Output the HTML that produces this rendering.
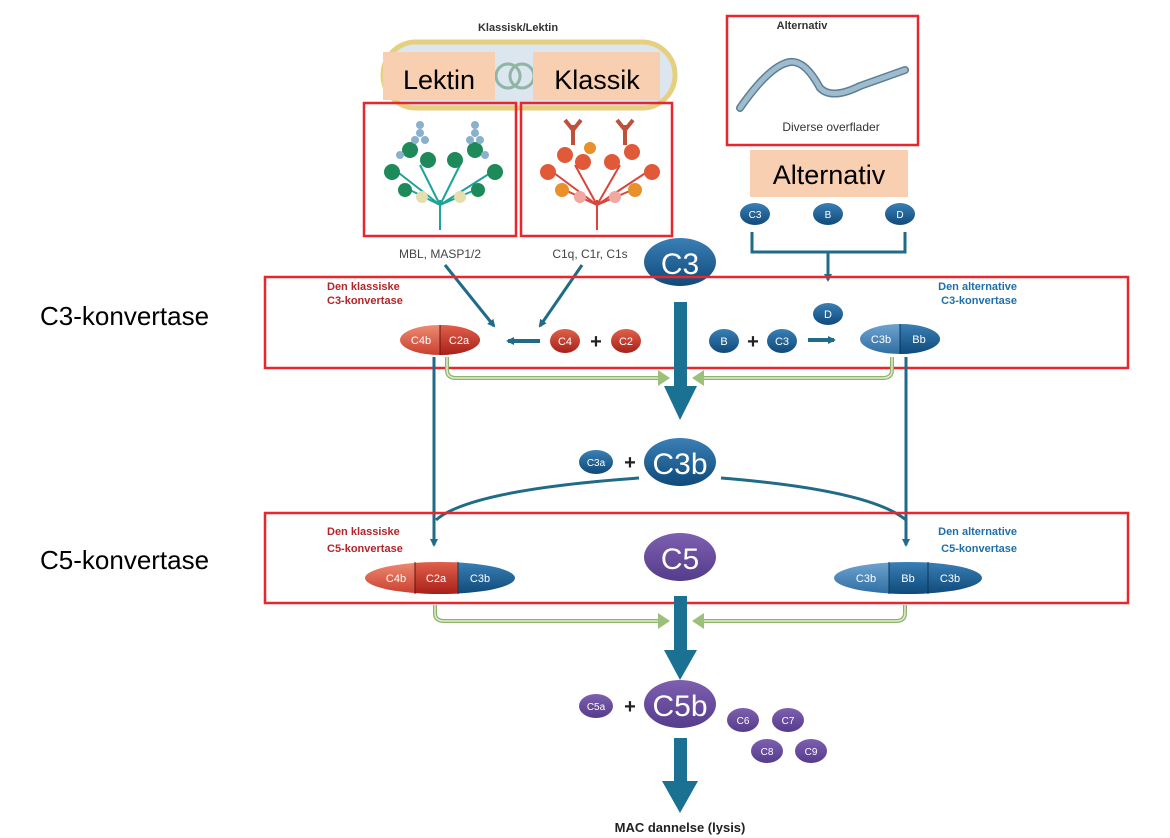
<!DOCTYPE html>
<html><head><meta charset="utf-8"><style>
html,body{margin:0;padding:0;background:#fff;}
svg{display:block;font-family:"Liberation Sans",sans-serif;}
</style></head><body>
<svg width="1170" height="838" viewBox="0 0 1170 838" xmlns="http://www.w3.org/2000/svg">
<defs>
<linearGradient id="blu" x1="0" y1="0" x2="0" y2="1"><stop offset="0" stop-color="#3a7fb5"/><stop offset="1" stop-color="#0f4a7a"/></linearGradient>
<linearGradient id="red" x1="0" y1="0" x2="0" y2="1"><stop offset="0" stop-color="#e0604a"/><stop offset="1" stop-color="#a8201a"/></linearGradient>
<linearGradient id="pur" x1="0" y1="0" x2="0" y2="1"><stop offset="0" stop-color="#7e5fb0"/><stop offset="1" stop-color="#553c8c"/></linearGradient>
<linearGradient id="lb" x1="0" y1="0" x2="0" y2="1"><stop offset="0" stop-color="#6ea3cf"/><stop offset="1" stop-color="#2f6ea3"/></linearGradient>
<linearGradient id="lr" x1="0" y1="0" x2="0" y2="1"><stop offset="0" stop-color="#ee8a70"/><stop offset="1" stop-color="#c84030"/></linearGradient>
<marker id="ta" markerWidth="8" markerHeight="8" refX="6" refY="4" orient="auto" markerUnits="userSpaceOnUse"><path d="M0,0 L8,4 L0,8 Z" fill="#1f6b88"/></marker>
</defs>

<!-- top labels -->
<text x="518" y="31" font-size="11" font-weight="bold" fill="#333" text-anchor="middle">Klassisk/Lektin</text>
<rect x="383" y="42" width="292" height="66" rx="33" fill="#dbe6ee" stroke="#e6cf7e" stroke-width="5"/>
<g fill="none" stroke="#8fb5a5" stroke-width="3"><circle cx="508" cy="76" r="12"/><circle cx="522" cy="76" r="12"/></g>
<rect x="383" y="52" width="112" height="48" fill="#f8cfb0"/>
<rect x="533" y="52" width="127" height="48" fill="#f8cfb0"/>
<text x="439" y="89" font-size="27" text-anchor="middle" fill="#000">Lektin</text>
<text x="597" y="89" font-size="27" text-anchor="middle" fill="#000">Klassik</text>

<!-- lectin tree -->
<g stroke="#1da39a" stroke-width="2" fill="none">
<path d="M440 230 V200 M440 205 L395 170 M440 205 L420 165 M440 205 L460 165 M440 205 L495 170 M440 205 L410 190 M440 205 L475 190"/>
</g>
<g fill="#1e8a5a"><circle cx="392" cy="172" r="8"/><circle cx="410" cy="150" r="8"/><circle cx="428" cy="160" r="8"/><circle cx="455" cy="160" r="8"/><circle cx="475" cy="150" r="8"/><circle cx="495" cy="172" r="8"/><circle cx="405" cy="190" r="7"/><circle cx="478" cy="190" r="7"/></g>
<g fill="#e5dfb0"><circle cx="422" cy="197" r="6"/><circle cx="460" cy="197" r="6"/></g>
<g fill="#8ab0cc"><circle cx="420" cy="125" r="4"/><circle cx="420" cy="133" r="4"/><circle cx="415" cy="140" r="4"/><circle cx="425" cy="140" r="4"/><circle cx="475" cy="125" r="4"/><circle cx="475" cy="133" r="4"/><circle cx="470" cy="140" r="4"/><circle cx="480" cy="140" r="4"/><circle cx="400" cy="155" r="4"/><circle cx="485" cy="155" r="4"/></g>
<!-- classical tree -->
<g stroke="#d9453a" stroke-width="2" fill="none">
<path d="M597 230 V200 M597 205 L550 170 M597 205 L575 165 M597 205 L620 165 M597 205 L650 170 M597 205 L565 190 M597 205 L632 190"/>
<path d="M573 145 V125 M573 130 L565 120 M573 130 L581 120 M625 145 V125 M625 130 L617 120 M625 130 L633 120" stroke="#c0503a" stroke-width="4"/>
</g>
<g fill="#e05a3a"><circle cx="548" cy="172" r="8"/><circle cx="565" cy="155" r="8"/><circle cx="583" cy="162" r="8"/><circle cx="612" cy="162" r="8"/><circle cx="632" cy="152" r="8"/><circle cx="652" cy="172" r="8"/></g>
<g fill="#e8902a"><circle cx="562" cy="190" r="7"/><circle cx="635" cy="190" r="7"/><circle cx="590" cy="148" r="6"/></g>
<g fill="#f0a8a0"><circle cx="580" cy="197" r="6"/><circle cx="615" cy="197" r="6"/></g>

<rect x="364" y="103" width="152" height="133" fill="none" stroke="#e8262b" stroke-width="2.5"/>
<rect x="521" y="103" width="151" height="133" fill="none" stroke="#e8262b" stroke-width="2.5"/>

<text x="440" y="258" font-size="12" fill="#444" text-anchor="middle">MBL, MASP1/2</text>
<text x="590" y="258" font-size="12" fill="#444" text-anchor="middle">C1q, C1r, C1s</text>

<!-- alternative -->
<rect x="727" y="16" width="191" height="129" fill="none" stroke="#e8262b" stroke-width="2.5"/>
<text x="802" y="29" font-size="11" font-weight="bold" fill="#333" text-anchor="middle">Alternativ</text>
<path d="M740 108 Q770 65 790 62 Q805 60 820 88 Q832 100 860 86 L905 70" fill="none" stroke="#5d7e94" stroke-width="8" stroke-linecap="round"/>
<path d="M740 108 Q770 65 790 62 Q805 60 820 88 Q832 100 860 86 L905 70" fill="none" stroke="#9fbccf" stroke-width="5" stroke-linecap="round"/>
<text x="831" y="131" font-size="12" fill="#333" text-anchor="middle">Diverse overflader</text>
<rect x="750" y="150" width="158" height="47" fill="#f8cfb0"/>
<text x="829" y="184" font-size="27" text-anchor="middle" fill="#000">Alternativ</text>

<g font-size="10" fill="#fff" text-anchor="middle">
<ellipse cx="755" cy="214" rx="15" ry="11" fill="url(#blu)"/><text x="755" y="218">C3</text>
<ellipse cx="828" cy="214" rx="15" ry="11" fill="url(#blu)"/><text x="828" y="218">B</text>
<ellipse cx="900" cy="214" rx="15" ry="11" fill="url(#blu)"/><text x="900" y="218">D</text>
</g>
<path d="M752 232 V252 H905 V232 M828 252 V280" fill="none" stroke="#1f6b88" stroke-width="3" marker-end="url(#ta)"/>

<!-- C3 big -->
<ellipse cx="680" cy="262" rx="36" ry="24" fill="url(#blu)"/>
<text x="680" y="274" font-size="30" fill="#fff" text-anchor="middle">C3</text>

<!-- C3 konvertase row -->
<text x="40" y="325" font-size="26" fill="#000">C3-konvertase</text>
<text x="327" y="290" font-size="11" font-weight="bold" fill="#b0262a">Den klassiske</text>
<text x="327" y="304" font-size="11" font-weight="bold" fill="#b0262a">C3-konvertase</text>
<text x="1017" y="290" font-size="11" font-weight="bold" fill="#1f6fa8" text-anchor="end">Den alternative</text>
<text x="1017" y="304" font-size="11" font-weight="bold" fill="#1f6fa8" text-anchor="end">C3-konvertase</text>

<path d="M445 265 L494 326" stroke="#1f6b88" stroke-width="3" marker-end="url(#ta)"/>
<path d="M582 265 L540 326" stroke="#1f6b88" stroke-width="3" marker-end="url(#ta)"/>

<g font-size="11" fill="#fff" text-anchor="middle">
<ellipse cx="440" cy="340" rx="40" ry="15" fill="url(#lr)"/>
<path d="M440 325 A40 15 0 0 1 440 355 Z" fill="url(#red)"/>
<line x1="440" y1="325" x2="440" y2="355" stroke="#6a1010"/>
<text x="421" y="344">C4b</text><text x="459" y="344">C2a</text>
<ellipse cx="565" cy="341" rx="15" ry="12" fill="url(#red)"/><text x="565" y="345">C4</text>
<ellipse cx="626" cy="341" rx="15" ry="12" fill="url(#red)"/><text x="626" y="345">C2</text>
<ellipse cx="724" cy="341" rx="15" ry="12" fill="url(#blu)"/><text x="724" y="345">B</text>
<ellipse cx="782" cy="341" rx="15" ry="12" fill="url(#blu)"/><text x="782" y="345">C3</text>
<ellipse cx="828" cy="314" rx="15" ry="11" fill="url(#blu)"/><text x="828" y="318">D</text>
<ellipse cx="900" cy="339" rx="40" ry="15" fill="url(#lb)"/>
<path d="M900 324 A40 15 0 0 1 900 354 Z" fill="url(#blu)"/>
<line x1="900" y1="324" x2="900" y2="354" stroke="#0a3558"/>
<text x="881" y="343">C3b</text><text x="919" y="343">Bb</text>
</g>
<text x="596" y="348" font-size="20" font-weight="bold" fill="#222" text-anchor="middle">+</text>
<text x="753" y="348" font-size="20" font-weight="bold" fill="#222" text-anchor="middle">+</text>
<path d="M540 341 H508" stroke="#1f6b88" stroke-width="4" marker-end="url(#ta)"/>
<path d="M808 340 H834" stroke="#1f6b88" stroke-width="4" marker-end="url(#ta)"/>

<rect x="265" y="277" width="863" height="91" fill="none" stroke="#e8262b" stroke-width="2.5"/>

<!-- big arrow 1 -->
<rect x="674" y="302" width="13" height="86" fill="#1a7192"/>
<path d="M664 386 H697 L680 420 Z" fill="#1a7192"/>
<!-- green arrows -->
<g fill="none" stroke="#8fb36a" stroke-width="4">
<path d="M447 357 V370 Q447 378 456 378 H660"/>
<path d="M892 357 V370 Q892 378 883 378 H702"/>
</g>
<g fill="none" stroke="#dfecd0" stroke-width="1.5">
<path d="M447 357 V370 Q447 378 456 378 H660"/>
<path d="M892 357 V370 Q892 378 883 378 H702"/>
</g>
<path d="M658 370 L670 378 L658 386 Z" fill="#9cc07a"/>
<path d="M704 370 L692 378 L704 386 Z" fill="#9cc07a"/>

<!-- long vertical lines -->
<path d="M434 357 V545" stroke="#1f6b88" stroke-width="3" marker-end="url(#ta)"/>
<path d="M906 357 V545" stroke="#1f6b88" stroke-width="3" marker-end="url(#ta)"/>

<!-- C3a + C3b -->
<ellipse cx="596" cy="462" rx="17" ry="12" fill="url(#blu)"/>
<text x="596" y="466" font-size="10" fill="#fff" text-anchor="middle">C3a</text>
<text x="630" y="469" font-size="20" font-weight="bold" fill="#222" text-anchor="middle">+</text>
<ellipse cx="680" cy="462" rx="36" ry="24" fill="url(#blu)"/>
<text x="680" y="474" font-size="30" fill="#fff" text-anchor="middle">C3b</text>
<path d="M639 478 Q470 490 436 520" fill="none" stroke="#1f6b88" stroke-width="3"/>
<path d="M721 478 Q870 490 906 520" fill="none" stroke="#1f6b88" stroke-width="3"/>

<!-- C5 konvertase row -->
<text x="40" y="569" font-size="26" fill="#000">C5-konvertase</text>
<text x="327" y="535" font-size="11" font-weight="bold" fill="#b0262a">Den klassiske</text>
<text x="327" y="552" font-size="11" font-weight="bold" fill="#b0262a">C5-konvertase</text>
<text x="1017" y="535" font-size="11" font-weight="bold" fill="#1f6fa8" text-anchor="end">Den alternative</text>
<text x="1017" y="552" font-size="11" font-weight="bold" fill="#1f6fa8" text-anchor="end">C5-konvertase</text>

<ellipse cx="680" cy="557" rx="36" ry="24" fill="url(#pur)"/>
<text x="680" y="569" font-size="30" fill="#fff" text-anchor="middle">C5</text>

<g font-size="11" fill="#fff" text-anchor="middle">
<clipPath id="c1"><ellipse cx="440" cy="578" rx="75" ry="16"/></clipPath>
<g clip-path="url(#c1)">
<rect x="365" y="562" width="50" height="32" fill="url(#lr)"/>
<rect x="415" y="562" width="43" height="32" fill="url(#red)"/>
<rect x="458" y="562" width="57" height="32" fill="url(#blu)"/>
</g>
<line x1="415" y1="562" x2="415" y2="594" stroke="#6a1010"/>
<line x1="458" y1="562" x2="458" y2="594" stroke="#333"/>
<text x="396" y="582">C4b</text><text x="436" y="582">C2a</text><text x="480" y="582">C3b</text>
<clipPath id="c2"><ellipse cx="908" cy="578" rx="74" ry="16"/></clipPath>
<g clip-path="url(#c2)">
<rect x="834" y="562" width="55" height="32" fill="url(#lb)"/>
<rect x="889" y="562" width="39" height="32" fill="url(#blu)"/>
<rect x="928" y="562" width="56" height="32" fill="url(#blu)"/>
</g>
<line x1="889" y1="562" x2="889" y2="594" stroke="#0a3558"/>
<line x1="928" y1="562" x2="928" y2="594" stroke="#0a3558"/>
<text x="866" y="582">C3b</text><text x="908" y="582">Bb</text><text x="950" y="582">C3b</text>
</g>

<rect x="265" y="513" width="863" height="90" fill="none" stroke="#e8262b" stroke-width="2.5"/>

<!-- big arrow 2 -->
<rect x="674" y="596" width="13" height="56" fill="#1a7192"/>
<path d="M664 650 H697 L680 680 Z" fill="#1a7192"/>
<g fill="none" stroke="#8fb36a" stroke-width="4">
<path d="M435 605 V613 Q435 621 444 621 H660"/>
<path d="M905 605 V613 Q905 621 896 621 H702"/>
</g>
<g fill="none" stroke="#dfecd0" stroke-width="1.5">
<path d="M435 605 V613 Q435 621 444 621 H660"/>
<path d="M905 605 V613 Q905 621 896 621 H702"/>
</g>
<path d="M658 613 L670 621 L658 629 Z" fill="#9cc07a"/>
<path d="M704 613 L692 621 L704 629 Z" fill="#9cc07a"/>

<!-- C5a + C5b -->
<ellipse cx="596" cy="706" rx="17" ry="12" fill="url(#pur)"/>
<text x="596" y="710" font-size="10" fill="#fff" text-anchor="middle">C5a</text>
<text x="630" y="713" font-size="20" font-weight="bold" fill="#222" text-anchor="middle">+</text>
<ellipse cx="680" cy="704" rx="36" ry="24" fill="url(#pur)"/>
<text x="680" y="716" font-size="30" fill="#fff" text-anchor="middle">C5b</text>
<g font-size="10" fill="#fff" text-anchor="middle">
<ellipse cx="743" cy="720" rx="16" ry="12" fill="url(#pur)"/><text x="743" y="724">C6</text>
<ellipse cx="788" cy="720" rx="16" ry="12" fill="url(#pur)"/><text x="788" y="724">C7</text>
<ellipse cx="767" cy="751" rx="16" ry="12" fill="url(#pur)"/><text x="767" y="755">C8</text>
<ellipse cx="811" cy="751" rx="16" ry="12" fill="url(#pur)"/><text x="811" y="755">C9</text>
</g>
<rect x="674" y="738" width="13" height="45" fill="#1a7192"/>
<path d="M662 781 H698 L680 813 Z" fill="#1a7192"/>
<text x="680" y="832" font-size="13" font-weight="bold" fill="#222" text-anchor="middle">MAC dannelse (lysis)</text>
</svg>
</body></html>
